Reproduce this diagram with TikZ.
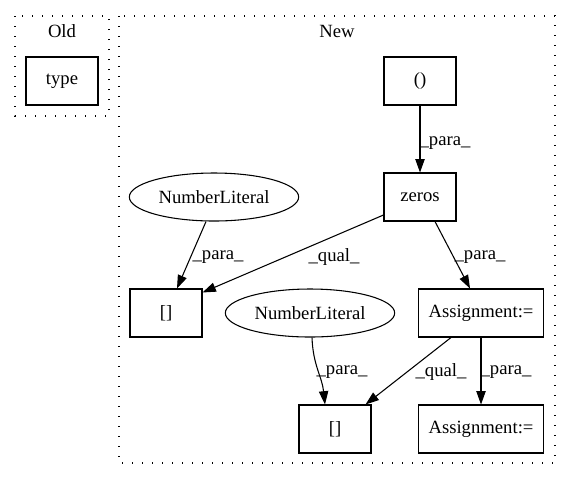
\documentclass[tikz,border=0pt]{standalone}
\usepackage{fontspec}
\setmainfont{Liberation Serif}
\usetikzlibrary{arrows.meta,shapes.geometric,calc}

\tikzset{
  every node/.style={font=\fontsize{14}{16}\selectfont},
  box/.style={draw, rectangle, line width=0.8pt, inner sep=0pt,
              minimum width=54pt, minimum height=36pt},
  widebox/.style={box, minimum width=94pt},
  lit/.style={draw, ellipse, line width=0.8pt, inner sep=0pt,
              minimum width=127pt, minimum height=36pt},
  cluster/.style={line width=0.9pt, dash pattern=on 1.1pt off 6.4pt},
  edge/.style={line width=0.8pt, -{Triangle[length=10pt,width=7pt]}},
  lbl/.style={inner sep=0pt},
}

\begin{document}
\begin{tikzpicture}[x=0.75pt, y=-0.75pt]
  \useasboundingbox[fill=white] (0,0) rectangle (573,480);

  % clusters
  \draw[cluster] (15,16) rectangle (109,116);
  \node[lbl] (oldlabel) at (62,31) {Old};
  \draw[cluster] (119,16) rectangle (555,463);
  \node[lbl] (newlabel) at (337,31) {New};

  % nodes
  \node[box] (type) at (62,81) {type};
  \node[box] (paren) at (420,81) {()};
  \node[box] (zeros) at (420,197) {zeros};
  \node[lit] (nlA) at (214,197) {NumberLiteral};
  \node[box] (idxA) at (166,313) {[]};
  \node[lit] (nlB) at (310,313) {NumberLiteral};
  \node[widebox] (asgA) at (481,313) {Assignment:=};
  \node[box] (idxB) at (335,429) {[]};
  \node[widebox] (asgB) at (481,429) {Assignment:=};

  % connectors
  \draw[edge] (paren.south) -- (zeros.north);
  \draw[edge] ($(nlA.south)+(-8,0)$) -- ($(idxA.north)+(11,0)$);
  \draw[edge] ($(zeros.west)+(0,18)$) -- ($(idxA.north east)+(0,4)$);
  \draw[edge] ($(zeros.south)+(15,0)$) -- ($(asgA.north)+(-11,0)$);
  \draw[edge] ($(nlB.south)+(2,0)$) .. controls +(1,28) and +(-3,-28) .. ($(idxB.north)+(-10,0)$);
  \draw[edge] ($(asgA.south)+(-30,0)$) -- ($(idxB.north east)+(-6,0)$);
  \draw[edge] (asgA.south) -- (asgB.north);

  % connector labels
  \node[lbl] (lp1) at (445,143) {\_para\_};
  \node[lbl] (lp2) at (218,257) {\_para\_};
  \node[lbl] (lq1) at (334,257) {\_qual\_};
  \node[lbl] (lp3) at (480,257) {\_para\_};
  \node[lbl] (lp4) at (342,372) {\_para\_};
  \node[lbl] (lq2) at (441,372) {\_qual\_};
  \node[lbl] (lp5) at (506,372) {\_para\_};
\end{tikzpicture}
\end{document}
